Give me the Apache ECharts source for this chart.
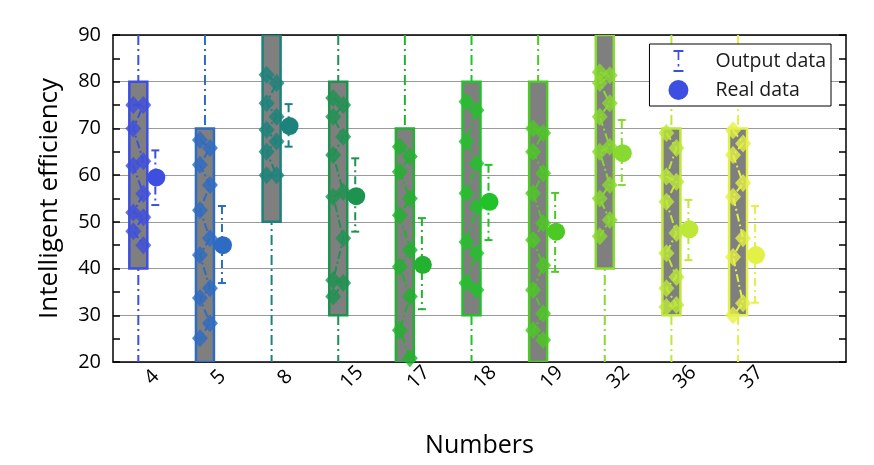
<!DOCTYPE html>
<html>
<head>
<meta charset="utf-8">
<title>Intelligent efficiency</title>
<script src="https://cdn.jsdelivr.net/npm/echarts@6/dist/echarts.min.js"></script>
<style>
html, body { margin: 0; padding: 0; background: #fff; }
#chart { width: 874px; height: 465px; }
</style>
</head>
<body>
<div id="chart"></div>
<script>
// categories on the x axis (last slot is empty, like the original)
var categories = ['4', '5', '8', '15', '17', '18', '19', '32', '36', '37'];

// grey box range of the output data
var boxLow  = [40, 20, 50, 30, 20, 30, 20, 40, 30, 30];
var boxHigh = [80, 70, 90, 80, 70, 80, 80, 90, 70, 70];

// output data points (diamonds), top to bottom
var output4  = [75, 75, 70, 63, 62, 56, 52, 51, 48, 45];
var output5  = [67.5, 65.8, 62.2, 57.9, 52.5, 46.5, 42.9, 35.8, 33.7, 28.3, 25.1];
var output8  = [81.5, 79.7, 75.4, 72.5, 69.7, 67.2, 65, 60, 60];
var output15 = [76.5, 75, 72.5, 68.2, 64.3, 56.4, 55.4, 46.5, 37.5, 36.9, 34];
var output17 = [66.1, 64, 60.7, 55, 51.4, 44, 40.4, 34, 26.8, 20.8];
var output18 = [75.7, 73.9, 67.2, 62.5, 56.1, 53.2, 45.7, 43.3, 36.9, 35.4];
var output19 = [70, 69, 65, 60.4, 56.1, 49.7, 46.1, 40.7, 35.4, 30.4, 26.8, 24.7];
var output32 = [82, 81.4, 79.7, 75.4, 72.5, 66.1, 65, 57.9, 55, 50.4, 46.9];
var output36 = [69, 65.8, 59.7, 58.6, 54.3, 47.6, 43.3, 38.2, 35.8, 32.2, 31.8];
var output37 = [69.6, 66.8, 64.3, 58.3, 55.4, 46.5, 42.5, 32.6, 30];
var outputValues = [output4, output5, output8, output15, output17, output18, output19, output32, output36, output37];

// real data and error range
var realValues = [59.5, 45, 70.5, 55.5, 40.8, 54.3, 47.9, 64.7, 48.4, 42.9];
var errLow     = [53.6, 36.9, 66.1, 47.9, 31.3, 46.1, 39.3, 57.9, 41.8, 32.7];
var errHigh    = [65.3, 53.4, 75.2, 63.6, 50.8, 62.2, 56.2, 71.8, 54.7, 53.4];

// y axis
var yMin = 20, yMax = 90, yStep = 10;

var colors = ['#3d4fe0', '#2e6bc4', '#1b837b', '#1d9350', '#22b22f',
              '#22c22a', '#4cc924', '#88d930', '#bde83a', '#e3f146'];

var BOX_SHIFT = -8;   // output data drawn left of the tick
var REAL_SHIFT = 10;  // real data drawn right of the tick

// 박스 + 점선
function renderBox(params, api) {
	var i = api.value(0);
	var color = colors[i];
	var lo = api.coord([i, api.value(1)]);
	var hi = api.coord([i, api.value(2)]);
	var top = api.coord([i, yMax]);
	var bottom = api.coord([i, yMin]);
	var cx = lo[0] + BOX_SHIFT;
	var pts = outputValues[i].map(function(v, k) {
		var p = api.coord([i, v]);
		return [cx + (k % 2 === 0 ? -5 : 5), p[1]];
	});
	return {
		type: 'group',
		children: [
			{ type: 'line', shape: { x1: cx, y1: top[1], x2: cx, y2: bottom[1] },
			  style: { stroke: color, lineWidth: 2, lineDash: [10, 4, 2, 4] } },
			{ type: 'rect', shape: { x: cx - 9, y: hi[1], width: 18, height: lo[1] - hi[1] },
			  style: { fill: '#7f7f7f', stroke: color, lineWidth: 2.5 } },
			{ type: 'polyline', shape: { points: pts },
			  style: { stroke: color, lineWidth: 2, lineDash: [8, 3, 2, 3], fill: null } }
		]
	};
}

// 에러바
function renderError(params, api) {
	var i = api.value(0);
	var color = colors[i];
	var lo = api.coord([i, api.value(1)]);
	var hi = api.coord([i, api.value(2)]);
	var x = lo[0] + REAL_SHIFT - 1;
	return {
		type: 'group',
		children: [
			{ type: 'line', shape: { x1: x, y1: hi[1], x2: x, y2: lo[1] },
			  style: { stroke: color, lineWidth: 2, lineDash: [8, 4, 2, 4] } },
			{ type: 'line', shape: { x1: x - 4, y1: hi[1], x2: x + 4, y2: hi[1] },
			  style: { stroke: color, lineWidth: 2 } },
			{ type: 'line', shape: { x1: x - 4, y1: lo[1], x2: x + 4, y2: lo[1] },
			  style: { stroke: color, lineWidth: 2 } }
		]
	};
}

var boxData = categories.map(function(c, i) { return [i, boxLow[i], boxHigh[i]]; });
var errData = categories.map(function(c, i) { return [i, errLow[i], errHigh[i]]; });
var realData = categories.map(function(c, i) {
	return { value: [i, realValues[i]], itemStyle: { color: colors[i] } };
});
var diamondData = [];
outputValues.forEach(function(list, i) {
	list.forEach(function(v, k) {
		diamondData.push({
			value: [i, v],
			symbolOffset: [BOX_SHIFT + (k % 2 === 0 ? -5 : 5), 0],
			itemStyle: { color: colors[i] }
		});
	});
});

var xLabels = categories.concat(['']);
var axisLineStyle = { color: '#000', width: 1.5 };
var fontFamily = '"Open Sans", "DejaVu Sans", sans-serif';

var chart = echarts.init(document.getElementById('chart'), null, { renderer: 'canvas' });
var option = {
	animation: false,
	backgroundColor: '#fff',
	textStyle: { fontFamily: fontFamily },
	grid: { left: 113, right: 28, top: 35, bottom: 103 },
	legend: {
		orient: 'vertical',
		right: 43,
		top: 44,
		backgroundColor: '#fff',
		borderColor: '#000',
		borderWidth: 1,
		borderRadius: 0,
		padding: [6, 5, 6, 19],
		itemGap: 8,
		itemWidth: 20,
		itemHeight: 22,
		textStyle: { fontSize: 19.5, color: '#1a1a1a', fontFamily: fontFamily, padding: [0, 0, 0, 22] },
		data: [
			{ name: 'Output data', icon: 'path://M0,0H12V2.5H0Z M5,0H7V12H5Z M5,17H7V20H5Z M0,24H12V26.5H0Z' },
			{ name: 'Real data', icon: 'circle' }
		]
	},
	xAxis: [{
		type: 'category',
		data: xLabels,
		position: 'bottom',
		boundaryGap: true,
		axisLine: { lineStyle: axisLineStyle },
		axisTick: { alignWithLabel: true, inside: true, interval: 0, length: 9, lineStyle: axisLineStyle },
		axisLabel: {
			interval: 0, rotate: 45, fontSize: 20, color: '#000', margin: 21,
			align: 'center', verticalAlign: 'middle', padding: [16, 0, 0, 16]
		},
		splitLine: { show: false },
		name: 'Numbers',
		nameLocation: 'middle',
		nameGap: 71,
		nameTextStyle: { fontSize: 25, color: '#000' }
	}, {
		type: 'category',
		data: xLabels,
		position: 'top',
		boundaryGap: true,
		axisLine: { lineStyle: axisLineStyle },
		axisTick: { alignWithLabel: true, inside: true, interval: 0, length: 9, lineStyle: axisLineStyle },
		axisLabel: { show: false },
		splitLine: { show: false }
	}],
	yAxis: [{
		type: 'value',
		min: yMin, max: yMax, interval: yStep,
		position: 'left',
		axisLine: { show: true, lineStyle: axisLineStyle },
		axisTick: { show: true, inside: true, length: 7, lineStyle: axisLineStyle },
		minorTick: { show: true, splitNumber: 2, length: 7, lineStyle: { color: '#000', width: 1.5 } },
		axisLabel: { fontSize: 20, color: '#000', margin: 12 },
		splitLine: { show: true, lineStyle: { color: '#999', width: 1 } },
		name: 'Intelligent efficiency',
		nameLocation: 'middle',
		nameGap: 50,
		nameTextStyle: { fontSize: 26, color: '#000' }
	}, {
		type: 'value',
		min: yMin, max: yMax, interval: yStep,
		position: 'right',
		axisLine: { show: true, lineStyle: axisLineStyle },
		axisTick: { show: true, inside: true, length: 7, lineStyle: axisLineStyle },
		minorTick: { show: true, splitNumber: 2, length: 7, lineStyle: { color: '#000', width: 1.5 } },
		axisLabel: { show: false },
		splitLine: { show: false }
	}],
	series: [{
		name: 'boxes',
		type: 'custom',
		renderItem: renderBox,
		data: boxData,
		clip: true,
		z: 2
	}, {
		name: 'diamonds',
		type: 'scatter',
		symbol: 'diamond',
		symbolSize: [16, 18],
		data: diamondData,
		z: 3
	}, {
		name: 'Output data',
		type: 'custom',
		renderItem: renderError,
		itemStyle: { color: colors[0] },
		data: errData,
		z: 3
	}, {
		name: 'Real data',
		type: 'scatter',
		symbol: 'circle',
		symbolSize: 18,
		symbolOffset: [REAL_SHIFT, 0],
		itemStyle: { color: colors[0], opacity: 1 },
		data: realData,
		z: 4
	}]
};
chart.setOption(option);
</script>
</body>
</html>
